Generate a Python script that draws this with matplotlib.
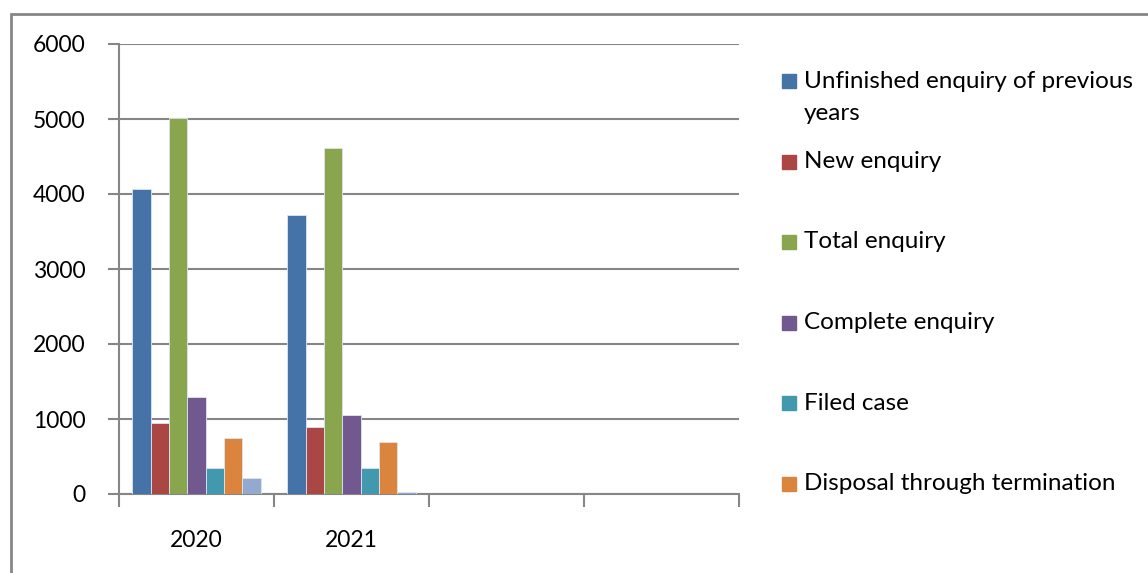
import textwrap
import numpy as np
import matplotlib
matplotlib.use("Agg")
import matplotlib.pyplot as plt
from matplotlib.patches import Rectangle

# data
categories = ["2020", "2021", "", ""]
# the seventh series' legend entry is cut off in the source picture
series_names = [
    "Unfinished enquiry of previous years",
    "New enquiry",
    "Total enquiry",
    "Complete enquiry",
    "Filed case",
    "Disposal through termination",
    "",
]
unfinished = [4065, 3720]
new_enq = [950, 893]
total_enq = [5015, 4613]
complete_enq = [1300, 1050]
filed_case = [343, 343]
disposal = [750, 688]
seventh = [210, 30]
values = [unfinished, new_enq, total_enq, complete_enq, filed_case, disposal, seventh]

colors = ["#4572A7", "#AA4643", "#89A54E", "#71588F", "#4198AF", "#DB843D", "#93A9CF"]
grid_col = "#868686"

plt.rcParams["font.family"] = ["Lato", "DejaVu Sans"]

W, H = 1148, 573
fig = plt.figure(figsize=(W / 100, H / 100), dpi=100)
ax = fig.add_axes([119 / W, (H - 494) / H, (739 - 119) / W, (494 - 44) / H])

n = len(values)
bw = 18.3 / 155
x = np.arange(len(values[0])) + 0.5
for i, (vals, c) in enumerate(zip(values, colors)):
    ax.bar(x - n * bw / 2 + (i + 0.5) * bw, vals, width=bw, color=c,
           edgecolor="#dde6f0", linewidth=0.6, zorder=3)

ax.set_xlim(0, len(categories))
ax.set_ylim(0, 6000)
ax.set_yticks(range(0, 6001, 1000))
ax.set_xticks(range(len(categories) + 1))
ax.set_xticklabels([])
ax.set_xticks(np.arange(len(categories)) + 0.5, minor=True)
ax.set_xticklabels(categories, minor=True)
ax.tick_params(axis="x", which="minor", length=0, pad=26, labelsize=16.5)
ax.tick_params(axis="x", which="major", length=9, width=1.5, color=grid_col)
ax.tick_params(axis="y", length=8, width=1.5, color=grid_col, pad=16, labelsize=16.5)
ax.grid(axis="y", color=grid_col, linewidth=1.5, zorder=0)
for s in ["top", "right"]:
    ax.spines[s].set_visible(False)
for s in ["left", "bottom"]:
    ax.spines[s].set_color(grid_col)
    ax.spines[s].set_linewidth(1.5)

# chart area border (right/bottom run off the image)
fig.add_artist(Rectangle((11 / W, -0.1), 1.2, (H - 14) / H + 0.1, transform=fig.transFigure,
                         fill=False, edgecolor=grid_col, linewidth=2))

# legend drawn by hand
y0, step, line_h = 81, 80.5, 32
for i, (name, c) in enumerate(zip(series_names, colors)):
    if not name:
        continue
    yc = y0 + i * step
    fig.add_artist(Rectangle((782 / W, (H - yc - 7) / H), 14 / W, 14 / H,
                             transform=fig.transFigure, color=c))
    for j, line in enumerate(textwrap.wrap(name, 30)):
        fig.text(804 / W, (H - yc - j * line_h) / H, line, fontsize=17.5,
                 va="center", ha="left", transform=fig.transFigure)

fig.savefig("out.png", dpi=100)
